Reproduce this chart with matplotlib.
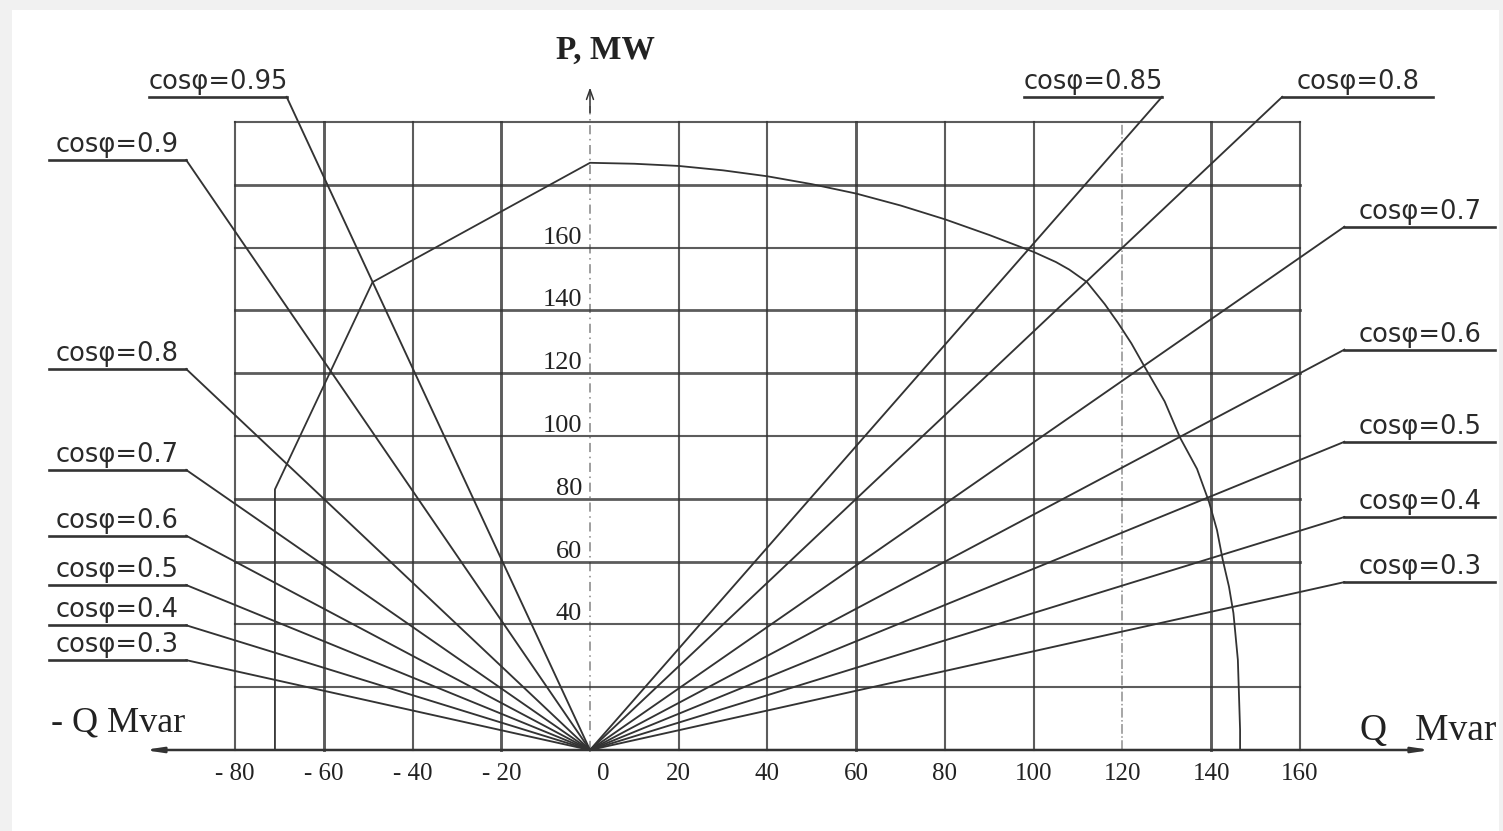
import numpy as np
import matplotlib.pyplot as plt
from matplotlib.patches import Rectangle

# coseno phi de cada recta (lado capacitivo a la izquierda, inductivo a la derecha)
cos_izq = [0.95, 0.9, 0.8, 0.7, 0.6, 0.5, 0.4, 0.3]
cos_der = [0.85, 0.8, 0.7, 0.6, 0.5, 0.4, 0.3]

q_ticks = [-80, -60, -40, -20, 0, 20, 40, 60, 80, 100, 120, 140, 160]
q_labels = ['- 80', '- 60', '- 40', '- 20', '0', '20', '40', '60', '80', '100', '120', '140', '160']
p_grid = [20, 40, 60, 80, 100, 120, 140, 160, 180, 200]
p_ticks = [40, 60, 80, 100, 120, 140, 160]

curva_q = [-71, -71, -49, 0, 10, 20, 30, 40, 50, 60, 70, 80, 90, 100, 105, 108, 112,
           116, 119, 122, 125, 129.5, 133, 136.8, 139.5, 141.3, 142.6, 144, 145, 146, 146.5, 146.5]
curva_p = [0, 83, 149, 187, 186.7, 186, 184.6, 182.7, 180.2, 177.2, 173.4, 169, 164, 158.6, 155.4, 153, 149,
           142, 136, 129.5, 122, 111, 99.4, 89.5, 79, 70, 60.5, 52, 43.6, 28.7, 6.4, 0]

col = '#333333'
fig = plt.figure(figsize=(15.03, 8.31), dpi=100, facecolor='#f1f1f1')
fig.patches.append(Rectangle((12 / 1503, 0), 1487 / 1503, 821 / 831,
                             transform=fig.transFigure, facecolor='white', edgecolor='none', zorder=-1))
ax = fig.add_axes([0, 0, 1, 1])
ax.set_xlim(-132.96, 205.75)
ax.set_ylim(-25.8, 238.85)
ax.axis('off')

# rejilla
for p in p_grid:
    lw = 2.0 if p in (60, 80, 120, 140, 180) else 1.5
    ax.plot([-80, 160], [p, p], color=col, lw=lw, alpha=0.8)
for q in q_ticks:
    if q == 0:
        continue
    if q == 120:
        ax.plot([q, q], [0, 200], color=col, lw=1.1, ls='-.', alpha=0.55)
    else:
        lw = 2.1 if q in (-60, -20, 60, 140) else 1.5
        ax.plot([q, q], [0, 200], color=col, lw=lw, alpha=0.8)

# ejes
ax.plot([0, 0], [0, 205], color=col, lw=1.1, ls=(0, (6, 3, 1, 3)), alpha=0.6)
ax.annotate('', xy=(0, 211), xytext=(0, 203),
            arrowprops=dict(arrowstyle='->,head_length=0.7,head_width=0.25', color=col, lw=1.1,
                            shrinkA=0, shrinkB=0))
ax.annotate('', xy=(-100.5, 0), xytext=(189.5, 0),
            arrowprops=dict(arrowstyle='<|-|>,head_length=1.0,head_width=0.15', color=col, lw=1.8,
                            shrinkA=0, shrinkB=0))

# curva de capacidad
ax.plot(curva_q, curva_p, color=col, lw=1.3)

# rectas de cos phi
def recta(c, lado):
    t = np.tan(np.arccos(c))
    if lado < 0:
        q_end = -91.0
    else:
        q_end = 170.0
    p_end = abs(q_end) / t
    if p_end > 208:
        p_end = 208.0
        q_end = lado * 208 * t
    ax.plot([0, q_end], [0, p_end], color=col, lw=1.35)
    if lado < 0 or q_end < 140:
        q0, q1 = q_end - 31, q_end
    else:
        q0, q1 = q_end, q_end + 34
    ax.plot([q0, q1], [p_end, p_end], color=col, lw=1.9)
    ax.text((q0 + q1) / 2, p_end + 2.5, f'cosφ={c:g}', ha='center', va='baseline',
            fontsize=18.5, family='DejaVu Sans', color='#2a2a2a')

for c in cos_izq:
    recta(c, -1)
for c in cos_der:
    recta(c, 1)

# etiquetas de los ejes
for q, lab in zip(q_ticks, q_labels):
    dx = 3 if q == 0 else 0
    ax.text(q + dx, -7.5, lab, ha='center', va='center', fontsize=18,
            family='Liberation Serif', color='#222222')
for p in p_ticks:
    ax.text(-1.8, p + 1.3, str(p), ha='right', va='baseline', fontsize=19,
            family='Liberation Serif', color='#222222')

ax.text(3.5, 223, 'P, MW', ha='center', va='center', fontsize=24, fontweight='bold',
        family='Liberation Serif', color='#222222')
ax.text(-121.5, 8.5, '- Q Mvar', ha='left', va='center', fontsize=26,
        family='Liberation Serif', color='#222222')
ax.text(173.5, 6, 'Q   Mvar', ha='left', va='center', fontsize=27,
        family='Liberation Serif', color='#222222')

plt.savefig('out.png', dpi=100, facecolor=fig.get_facecolor())
